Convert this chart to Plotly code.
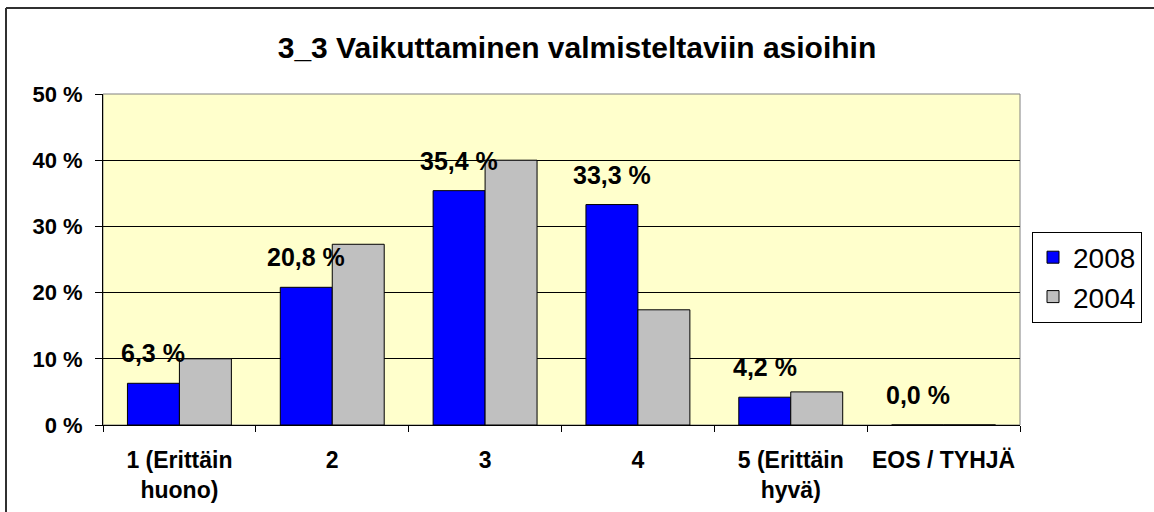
import plotly.graph_objects as go

categories = ["1 (Erittäin<br>huono)", "2", "3", "4", "5 (Erittäin<br>hyvä)", "EOS / TYHJÄ"]
values_2008 = [6.3, 20.8, 35.4, 33.3, 4.2, 0.0]
values_2004 = [10.0, 27.3, 40.0, 17.4, 5.0, 0.0]
labels_2008 = ["6,3 %", "20,8 %", "35,4 %", "33,3 %", "4,2 %", "0,0 %"]
y_tick_vals = [0, 10, 20, 30, 40, 50]
y_tick_text = ["0 %", "10 %", "20 %", "30 %", "40 %", "50 %"]

FONT = "Liberation Sans, Arial, sans-serif"
W, H = 1154, 512
L, R, T, B = 103, 134, 94, 87
PW, PH = W - L - R, H - T - B
BARGAP = 0.32
bar_px = PW / len(categories) * (1 - BARGAP) / 2

fig = go.Figure()
fig.add_trace(go.Bar(
    name="2008", x=categories, y=values_2008,
    marker=dict(color="#0000FF", line=dict(color="black", width=1)),
))
fig.add_trace(go.Bar(
    name="2004", x=categories, y=values_2004,
    marker=dict(color="#C0C0C0", line=dict(color="black", width=1)),
))

for i, (v, t) in enumerate(zip(values_2008, labels_2008)):
    fig.add_annotation(x=i, y=v, xref="x", yref="y", text=t, showarrow=False,
                       xanchor="center", yanchor="bottom",
                       xshift=-bar_px / 2, yshift=14,
                       font=dict(family=FONT, size=25, color="black", weight="bold"))

def px_x(x):
    return (x - L) / PW

def px_y(y):
    return (H - B - y) / PH

fig.update_layout(
    width=W, height=H,
    margin=dict(l=L, r=R, t=T, b=B, autoexpand=False),
    paper_bgcolor="white",
    plot_bgcolor="#FFFFCC",
    barmode="group", bargap=BARGAP, bargroupgap=0,
    font=dict(family=FONT, color="black"),
    title=dict(text="3_3 Vaikuttaminen valmisteltaviin asioihin",
               x=0.5, xanchor="center", xref="container",
               y=1 - 47 / H, yanchor="middle", yref="container",
               font=dict(family=FONT, size=30, color="black", weight="bold")),
    legend=dict(x=px_x(1032), xanchor="left", y=px_y(277), yanchor="middle",
                bordercolor="black", borderwidth=1, bgcolor="white",
                font=dict(family=FONT, size=28, color="black"),
                itemwidth=30, tracegroupgap=0),
    xaxis=dict(
        tickson="boundaries", ticks="outside", ticklen=6, tickcolor="black",
        showline=True, linecolor="black", linewidth=1,
        tickfont=dict(family=FONT, size=23, color="black", weight="bold"),
        showgrid=False, ticklabelstandoff=14, automargin=False,
    ),
    yaxis=dict(
        range=[0, 50], tickvals=y_tick_vals, ticktext=y_tick_text,
        ticks="outside", ticklen=7, tickcolor="black",
        showline=True, linecolor="black", linewidth=1,
        showgrid=True, gridcolor="black", gridwidth=1,
        tickfont=dict(family=FONT, size=22, color="black", weight="bold"),
        zeroline=False, ticklabelstandoff=8, automargin=False,
    ),
    shapes=[
        dict(type="rect", xref="paper", yref="paper",
             x0=0, x1=1, y0=0, y1=1, line=dict(color="#808080", width=1), layer="below"),
        dict(type="line", xref="paper", yref="paper",
             x0=px_x(6), x1=px_x(6), y0=px_y(8), y1=px_y(H + 5),
             line=dict(color="#303030", width=2)),
        dict(type="line", xref="paper", yref="paper",
             x0=px_x(6), x1=px_x(W + 5), y0=px_y(8), y1=px_y(8),
             line=dict(color="#303030", width=2)),
    ],
)

fig.write_html("out.html", config={"displayModeBar": False},
               post_script="document.body.style.margin='0px';")
